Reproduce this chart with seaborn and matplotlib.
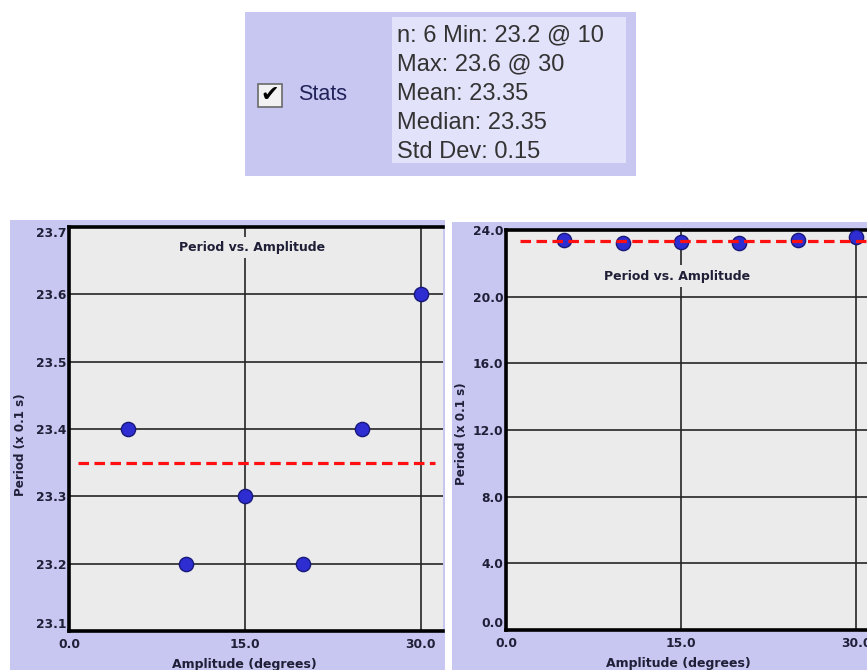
import numpy as np
import pandas as pd
import matplotlib.pyplot as plt
import seaborn as sns
from matplotlib.patches import Rectangle

amplitude = [5, 10, 15, 20, 25, 30]
period = [23.4, 23.2, 23.3, 23.2, 23.4, 23.6]
xticks = [0, 15, 30]
left_yticks = [23.1, 23.2, 23.3, 23.4, 23.5, 23.6, 23.7]
right_yticks = [0, 4, 8, 12, 16, 20, 24]
stats_lines = ["n: 6 Min: 23.2 @ 10", "Max: 23.6 @ 30", "Mean: 23.35",
               "Median: 23.35", "Std Dev: 0.15"]

df = pd.DataFrame({"amp": amplitude, "period": period})
mean_period = df["period"].mean()

sns.set_theme(style="white")
plt.rcParams['font.family'] = ['DejaVu Sans']

W, H = 867, 670
fig = plt.figure(figsize=(W / 100, H / 100), dpi=100)
fig.patch.set_facecolor('white')

LAV = '#c7c7f1'
INK = '#1f1f38'


def px_box(x0, y0, x1, y1):
    # pixel corners (top-left origin) -> figure fraction rect
    return [x0 / W, 1 - y1 / H, (x1 - x0) / W, (y1 - y0) / H]


def bg(x0, y0, x1, y1, color, ec='none', lw=0, z=-5):
    l, b, w, h = px_box(x0, y0, x1, y1)
    fig.add_artist(Rectangle((l, b), w, h, transform=fig.transFigure,
                             facecolor=color, edgecolor=ec, lw=lw, zorder=z))


# stats box
bg(245, 12, 636, 176, LAV)
bg(392, 17, 626, 163, '#e2e2fb')
bg(258, 84, 282, 107, '#f2f2f2', ec='#6a6a6a', lw=1.2, z=-4)
fig.text(270 / W, 1 - 95 / H, "\u2714", fontsize=16, ha='center', va='center', color='black')
fig.text(298 / W, 1 - 95 / H, "Stats", fontsize=15.5, ha='left', va='center',
         color='#22225a', family=['Liberation Sans', 'DejaVu Sans'])
for i, line in enumerate(stats_lines):
    fig.text(397 / W, 1 - (35 + i * 29.3) / H, line, fontsize=17, ha='left', va='center',
             color='#333333', family=['Liberation Sans', 'DejaVu Sans'])

# panel backgrounds
bg(10, 220, 445, 670, LAV)
bg(452, 222, 867, 670, LAV)


def panel(rect, xmax, ylim, yticks, fmt, line_x0, line_x1, title_xy, ylab_xy, xlab_xy):
    ax = fig.add_axes(px_box(*rect))
    ax.set_facecolor('#ebebeb')
    ax.set_xlim(0, xmax)
    ax.set_ylim(*ylim)
    ax.set_xticks(xticks)
    ax.set_yticks(yticks)
    ax.set_xticklabels([f"{v:.1f}" for v in xticks])
    ax.set_yticklabels([fmt.format(v) for v in yticks])
    ax.grid(True, color='#262626', lw=1.2)
    ax.set_axisbelow(True)

    sns.scatterplot(data=df, x="amp", y="period", ax=ax, s=105, color='#2d2dd2',
                    edgecolor='#18187a', linewidth=1, zorder=4, clip_on=False, legend=False)
    ax.plot([line_x0, line_x1], [mean_period, mean_period], color='#ff1010', lw=2.3,
            ls=(0, (3.3, 1.7)), zorder=5)

    for side in ['left', 'top', 'bottom']:
        ax.spines[side].set_linewidth(2.6)
        ax.spines[side].set_color('black')
    ax.spines['right'].set_visible(False)

    ax.tick_params(length=0, labelsize=8.8, labelcolor=INK)
    ax.tick_params(axis='x', pad=5)
    ax.tick_params(axis='y', pad=2)
    for lab in ax.get_xticklabels() + ax.get_yticklabels():
        lab.set_fontweight('bold')
    ylabs = ax.get_yticklabels()
    ylabs[0].set_va('bottom')
    if ylim[0] > 1:
        ylabs[-1].set_va('top')

    ax.text(title_xy[0], title_xy[1], "Period vs. Amplitude", fontsize=9, fontweight='bold',
            ha='center', va='center', color=INK, zorder=3,
            bbox=dict(facecolor='#ebebeb', edgecolor='none', pad=3))

    ax.set_xlabel("Amplitude (degrees)", fontsize=9, fontweight='bold', color=INK)
    ax.set_ylabel("Period (x 0.1 s)", fontsize=8.6, fontweight='bold', color=INK)
    ax.xaxis.set_label_coords(*xlab_xy)
    ax.yaxis.set_label_coords(*ylab_xy)
    ax.xaxis.label.set_va('center')
    ax.yaxis.label.set_va('center')
    return ax


panel((69, 227, 443, 631), 31.9, (23.1, 23.7), left_yticks, "{:.1f}",
      0.77, 31.2, (15.6, 23.669), (-0.131, 0.46), (0.47, -0.082))
panel((506, 230, 870, 630), 31.2, (0, 24), right_yticks, "{:.1f}",
      1.2, 31.2, (14.7, 21.24), (-0.122, 0.49), (0.474, -0.085))

fig.savefig("out.png", dpi=100)
